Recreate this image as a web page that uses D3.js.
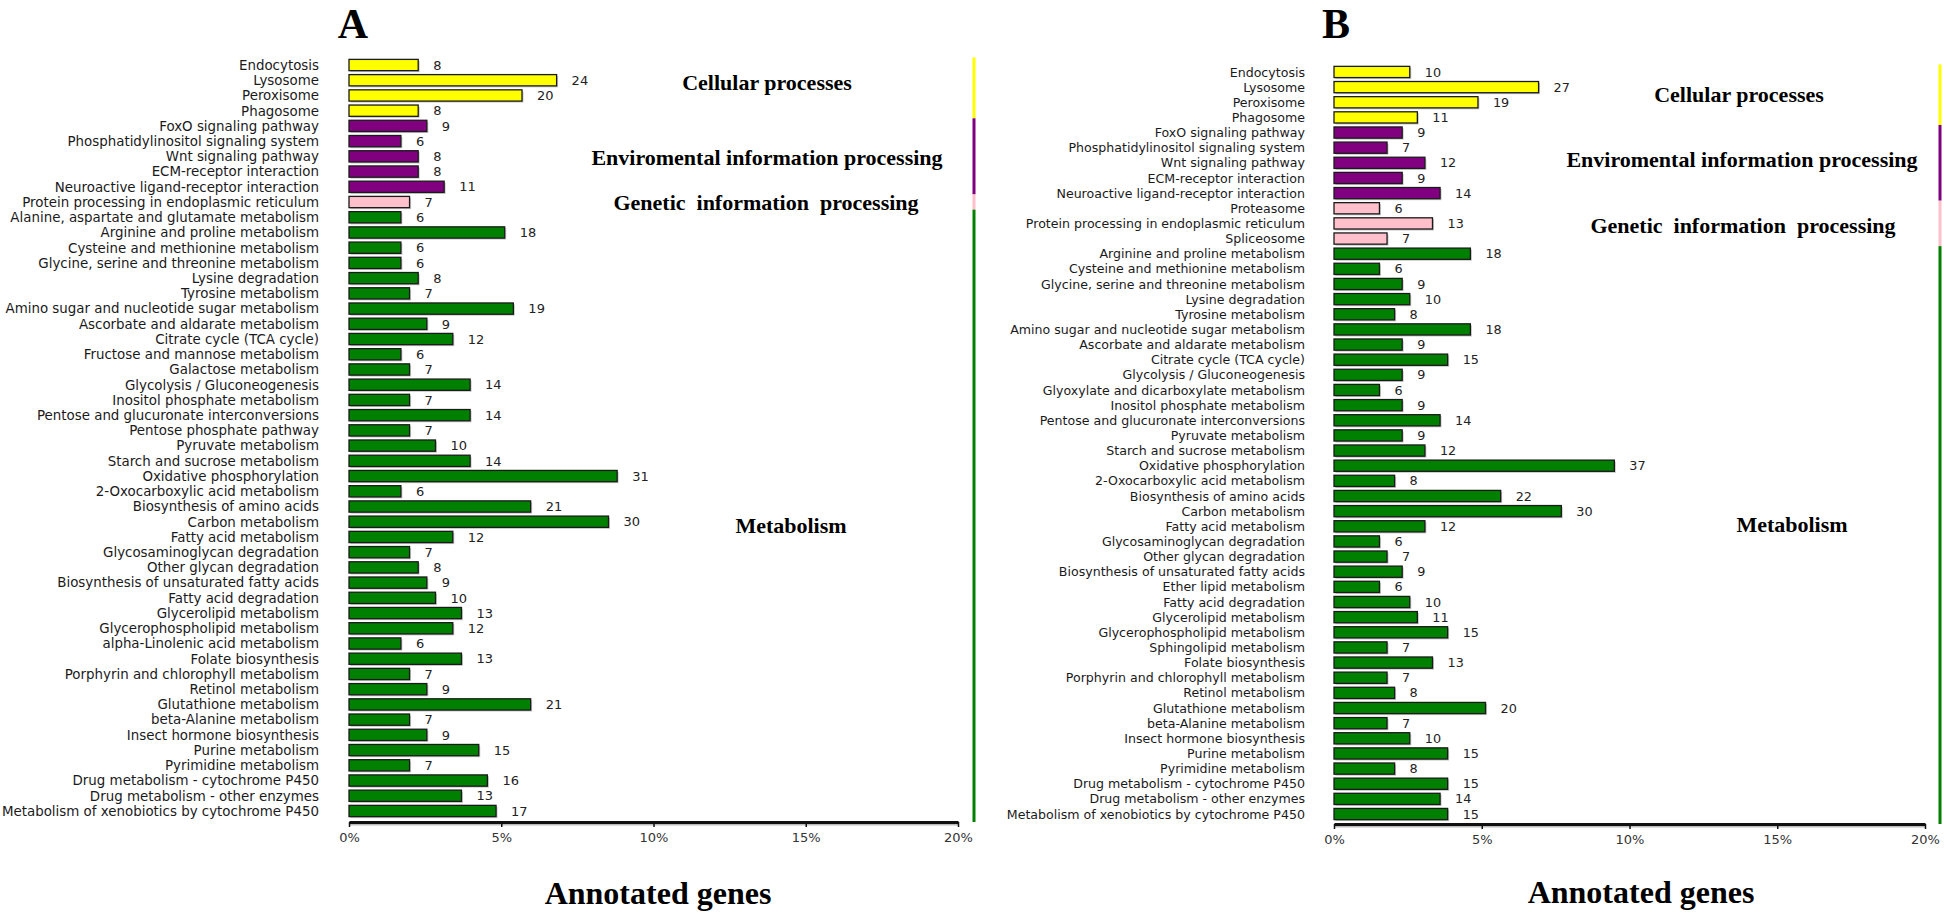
<!DOCTYPE html>
<html>
<head>
<meta charset="utf-8">
<script src="https://cdn.jsdelivr.net/npm/d3@7"></script>
<style>
  html, body { margin: 0; padding: 0; background: #fff; }
  svg { display: block; }
  .lab { font-family: "DejaVu Sans", sans-serif; fill: #1a1a1a; }
  .val { font-family: "DejaVu Sans", sans-serif; fill: #222; }
  .tick text { font-family: "DejaVu Sans", sans-serif; font-size: 13px; fill: #333; }
  .head { font-family: "Liberation Serif", "Times New Roman", serif; font-weight: bold; font-size: 22px; fill: #000; white-space: pre; }
  .title { font-family: "Liberation Serif", "Times New Roman", serif; font-weight: bold; font-size: 42px; fill: #000; }
  .xt { font-family: "Liberation Serif", "Times New Roman", serif; font-weight: bold; font-size: 32px; fill: #000; }
</style>
</head>
<body>
<svg id="chart" width="1946" height="917"></svg>
<script>
// ---------------- DATA ----------------
const groupNames = ["Cellular processes", "Enviromental information processing", "Genetic  information  processing", "Metabolism"];
const groupColors = ["#ffff00", "#800080", "#ffc0cb", "#008000"];
const tickValues = [0, 0.05, 0.10, 0.15, 0.20];
const tickLabels = ["0%", "5%", "10%", "15%", "20%"];

// Panel A
const totalA = 352;
const groupSizesA = [4, 5, 1, 40];
const categoriesA = [
  "Endocytosis", "Lysosome", "Peroxisome", "Phagosome",
  "FoxO signaling pathway", "Phosphatidylinositol signaling system", "Wnt signaling pathway", "ECM-receptor interaction", "Neuroactive ligand-receptor interaction",
  "Protein processing in endoplasmic reticulum",
  "Alanine, aspartate and glutamate metabolism", "Arginine and proline metabolism", "Cysteine and methionine metabolism",
  "Glycine, serine and threonine metabolism", "Lysine degradation", "Tyrosine metabolism", "Amino sugar and nucleotide sugar metabolism",
  "Ascorbate and aldarate metabolism", "Citrate cycle (TCA cycle)", "Fructose and mannose metabolism", "Galactose metabolism",
  "Glycolysis / Gluconeogenesis", "Inositol phosphate metabolism", "Pentose and glucuronate interconversions", "Pentose phosphate pathway",
  "Pyruvate metabolism", "Starch and sucrose metabolism", "Oxidative phosphorylation", "2-Oxocarboxylic acid metabolism",
  "Biosynthesis of amino acids", "Carbon metabolism", "Fatty acid metabolism", "Glycosaminoglycan degradation",
  "Other glycan degradation", "Biosynthesis of unsaturated fatty acids", "Fatty acid degradation", "Glycerolipid metabolism",
  "Glycerophospholipid metabolism", "alpha-Linolenic acid metabolism", "Folate biosynthesis", "Porphyrin and chlorophyll metabolism",
  "Retinol metabolism", "Glutathione metabolism", "beta-Alanine metabolism", "Insect hormone biosynthesis",
  "Purine metabolism", "Pyrimidine metabolism", "Drug metabolism - cytochrome P450", "Drug metabolism - other enzymes",
  "Metabolism of xenobiotics by cytochrome P450"
];
const countsA = [
  8, 24, 20, 8,
  9, 6, 8, 8, 11,
  7,
  6, 18, 6, 6, 8, 7, 19, 9, 12, 6, 7, 14, 7, 14, 7, 10, 14, 31, 6, 21, 30, 12, 7, 8, 9, 10, 13, 12, 6, 13, 7, 9, 21, 7, 9, 15, 7, 16, 13, 17
];

// Panel B
const totalB = 390;
const groupSizesB = [4, 5, 3, 38];
const categoriesB = [
  "Endocytosis", "Lysosome", "Peroxisome", "Phagosome",
  "FoxO signaling pathway", "Phosphatidylinositol signaling system", "Wnt signaling pathway", "ECM-receptor interaction", "Neuroactive ligand-receptor interaction",
  "Proteasome", "Protein processing in endoplasmic reticulum", "Spliceosome",
  "Arginine and proline metabolism", "Cysteine and methionine metabolism", "Glycine, serine and threonine metabolism", "Lysine degradation",
  "Tyrosine metabolism", "Amino sugar and nucleotide sugar metabolism", "Ascorbate and aldarate metabolism", "Citrate cycle (TCA cycle)",
  "Glycolysis / Gluconeogenesis", "Glyoxylate and dicarboxylate metabolism", "Inositol phosphate metabolism", "Pentose and glucuronate interconversions",
  "Pyruvate metabolism", "Starch and sucrose metabolism", "Oxidative phosphorylation", "2-Oxocarboxylic acid metabolism",
  "Biosynthesis of amino acids", "Carbon metabolism", "Fatty acid metabolism", "Glycosaminoglycan degradation",
  "Other glycan degradation", "Biosynthesis of unsaturated fatty acids", "Ether lipid metabolism", "Fatty acid degradation",
  "Glycerolipid metabolism", "Glycerophospholipid metabolism", "Sphingolipid metabolism", "Folate biosynthesis",
  "Porphyrin and chlorophyll metabolism", "Retinol metabolism", "Glutathione metabolism", "beta-Alanine metabolism",
  "Insect hormone biosynthesis", "Purine metabolism", "Pyrimidine metabolism", "Drug metabolism - cytochrome P450",
  "Drug metabolism - other enzymes", "Metabolism of xenobiotics by cytochrome P450"
];
const countsB = [
  10, 27, 19, 11,
  9, 7, 12, 9, 14,
  6, 13, 7,
  18, 6, 9, 10, 8, 18, 9, 15, 9, 6, 9, 14, 9, 12, 37, 8, 22, 30, 12, 6, 7, 9, 6, 10, 11, 15, 7, 13, 7, 8, 20, 7, 10, 15, 8, 15, 14, 15
];

// ---------------- DRAW ----------------
const svg = d3.select("#chart");

function panel(cfg) {
  const g = svg.append("g");
  const groupIdx = [];
  cfg.sizes.forEach((n, gi) => { for (let i = 0; i < n; i++) groupIdx.push(gi); });

  const x = d3.scaleLinear().domain([0, 0.2]).range([cfg.x0, cfg.x1]);
  const y = d3.scaleBand().domain(cfg.cats).range([cfg.yTop, cfg.yBot]).paddingInner(0.26).paddingOuter(0.13);

  const rows = cfg.cats.map((c, i) => ({ cat: c, n: cfg.counts[i], gi: groupIdx[i] }));

  // shadows
  g.selectAll("rect.sh").data(rows).join("rect")
    .attr("x", cfg.x0 + 1.5)
    .attr("y", d => y(d.cat) + 1.5)
    .attr("width", d => x(d.n / cfg.total) - cfg.x0)
    .attr("height", y.bandwidth())
    .attr("fill", "#c8c8c8");
  // bars
  g.selectAll("rect.bar").data(rows).join("rect")
    .attr("class", "bar")
    .attr("x", cfg.x0)
    .attr("y", d => y(d.cat))
    .attr("width", d => x(d.n / cfg.total) - cfg.x0)
    .attr("height", y.bandwidth())
    .attr("fill", d => groupColors[d.gi])
    .attr("stroke", "#1a1a1a")
    .attr("stroke-width", 1.3);

  // category labels
  g.selectAll("text.lab").data(rows).join("text")
    .attr("class", "lab")
    .style("font-size", cfg.labSize + "px")
    .attr("x", cfg.labX)
    .attr("y", d => y(d.cat) + y.bandwidth() / 2)
    .attr("dy", "0.36em")
    .attr("text-anchor", "end")
    .text(d => d.cat);

  // value labels
  g.selectAll("text.val").data(rows).join("text")
    .attr("class", "val")
    .style("font-size", cfg.valSize + "px")
    .attr("x", d => x(d.n / cfg.total) + 15)
    .attr("y", d => y(d.cat) + y.bandwidth() / 2)
    .attr("dy", "0.36em")
    .text(d => d.n);

  // axis
  const axisG = g.append("g").attr("transform", `translate(0,${cfg.axisY})`);
  axisG.append("line").attr("x1", cfg.x0 + 1).attr("x2", cfg.x1 + 1).attr("y1", 2).attr("y2", 2)
    .attr("stroke", "#bdbdbd").attr("stroke-width", 3);
  const ax = d3.axisBottom(x).tickValues(tickValues).tickFormat((d, i) => tickLabels[i]).tickSize(5).tickSizeOuter(0).tickPadding(6);
  axisG.call(ax);
  axisG.select(".domain").attr("stroke", "#111").attr("stroke-width", 3);
  axisG.selectAll(".tick line").attr("stroke", "#111").attr("stroke-width", 1.5);

  // group color bar on the right
  let start = 0;
  cfg.sizes.forEach((n, gi) => {
    const first = cfg.cats[start], last = cfg.cats[start + n - 1];
    const step = y.step();
    const gap = (step - y.bandwidth()) / 2;
    const top = y(first) - gap;
    let bot = y(last) + y.bandwidth() + gap;
    if (gi === cfg.sizes.length - 1) bot = cfg.axisY;
    g.append("rect").attr("x", cfg.barX - 1.5).attr("width", 3)
      .attr("y", top).attr("height", bot - top).attr("fill", groupColors[gi]);
    start += n;
  });

  // group headings
  groupNames.forEach((nm, gi) => {
    g.append("text").attr("class", "head").attr("text-anchor", "middle")
      .attr("x", cfg.heads[gi][0]).attr("y", cfg.heads[gi][1]).text(nm);
  });

  // panel title
  g.append("text").attr("class", "title").attr("text-anchor", "middle")
    .attr("x", cfg.title[0]).attr("y", cfg.title[1]).text(cfg.titleText);
  // x axis title
  g.append("text").attr("class", "xt").attr("text-anchor", "middle")
    .attr("x", cfg.xt[0]).attr("y", cfg.xt[1]).text("Annotated genes");
}

panel({
  cats: categoriesA, counts: countsA, sizes: groupSizesA, total: totalA,
  x0: 349, x1: 958, yTop: 57.4, yBot: 818.6, axisY: 822, labX: 319, barX: 974,
  labSize: 13.4, valSize: 13,
  heads: [[767, 90], [767, 165], [766, 210], [791, 533]],
  title: [353, 38], titleText: "A", xt: [658, 904]
});
panel({
  cats: categoriesB, counts: countsB, sizes: groupSizesB, total: totalB,
  x0: 1334, x1: 1925, yTop: 64.4, yBot: 821.6, axisY: 824, labX: 1305, barX: 1940,
  labSize: 12.6, valSize: 12.8,
  heads: [[1739, 102], [1742, 167], [1743, 233], [1792, 532]],
  title: [1336, 38], titleText: "B", xt: [1641, 903]
});
</script>
</body>
</html>
